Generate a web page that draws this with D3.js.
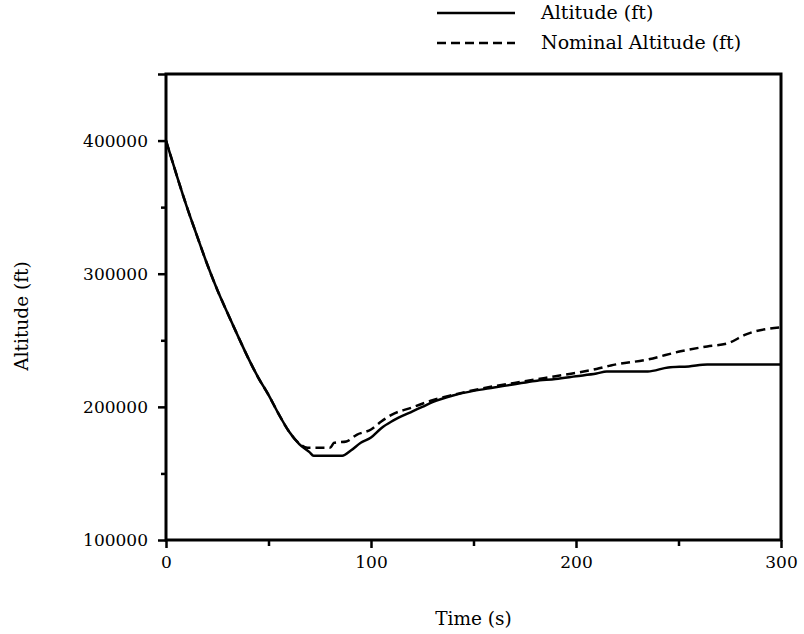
<!DOCTYPE html>
<html>
<head>
<meta charset="utf-8">
<script src="https://cdn.jsdelivr.net/npm/d3@7"></script>
<style>
  body { margin: 0; background: #fff; }
  text { font-family: "DejaVu Serif", serif; fill: #000; }
  .domain { display: none; }
  .tick line { stroke: #000; stroke-width: 2.5px; }
</style>
</head>
<body>
<div id="chart"></div>
<script>
// data
var altTime = [0, 5, 10, 15, 20, 25, 30, 35, 40, 45, 50, 55, 60, 65, 70, 72, 86, 90, 95, 100, 105, 110, 115, 120, 125, 130, 140, 150, 160, 170, 180, 190, 200, 210, 215, 235, 245, 255, 264, 300];
var altitude = [400000, 375000, 351000, 329000, 307500, 288000, 270500, 253500, 237000, 222000, 209000, 194500, 181500, 172000, 166000, 163300, 163300, 167000, 173000, 177000, 184000, 189000, 193000, 196500, 200000, 203500, 208500, 212000, 214500, 217000, 219500, 221000, 223000, 225000, 226600, 226600, 229600, 230400, 231900, 231900];

var nomTime = [0, 5, 10, 15, 20, 25, 30, 35, 40, 45, 50, 55, 60, 65, 69, 80, 82, 88, 93, 100, 105, 110, 120, 130, 140, 150, 160, 170, 180, 190, 200, 210, 217, 235, 251, 264, 274, 283, 300];
var nominal = [400000, 375000, 351000, 329000, 307500, 288000, 270500, 253500, 237000, 222000, 209000, 194500, 181500, 172500, 169300, 169300, 173000, 174000, 179000, 183000, 189000, 194000, 199500, 205000, 209000, 212500, 215500, 218000, 220500, 223000, 225500, 228500, 231100, 235600, 241700, 245400, 247700, 254500, 259800];

var xTicks = [0, 100, 200, 300];
var xMinorTicks = [50, 150, 250];
var yTicks = [100000, 200000, 300000, 400000];
var yMinorTicks = [150000, 250000, 350000];

var svgWidth = 804;
var svgHeight = 634;

var margin = { top: 74, right: 23, bottom: 94, left: 166 };
var width = svgWidth - margin.left - margin.right;
var height = svgHeight - margin.top - margin.bottom;

var svg = d3.select("#chart")
  .append("svg")
  .attr("width", svgWidth)
  .attr("height", svgHeight);

var chartGroup = svg.append("g")
  .attr("transform", `translate(${margin.left}, ${margin.top})`);

var xScale = d3.scaleLinear().domain([0, 300]).range([0, width]);
var yScale = d3.scaleLinear().domain([100000, 450000]).range([height, 0]);

// x axis, major + minor ticks
var xAxis = chartGroup.append("g")
  .attr("transform", `translate(0, ${height})`)
  .call(d3.axisBottom(xScale).tickValues(xTicks).tickSize(8).tickPadding(8).tickFormat(d3.format("d")));
xAxis.selectAll("text").style("font-size", "17px");

chartGroup.append("g")
  .attr("transform", `translate(0, ${height})`)
  .call(d3.axisBottom(xScale).tickValues(xMinorTicks).tickSize(6).tickFormat(""));

// y axis, major + minor ticks (450000 tick carries no label)
var yAxis = chartGroup.append("g")
  .call(d3.axisLeft(yScale).tickValues(yTicks.concat([450000])).tickSize(8).tickPadding(10)
    .tickFormat(d => d === 450000 ? "" : d3.format("d")(d)));
yAxis.selectAll("text").style("font-size", "17px");

chartGroup.append("g")
  .call(d3.axisLeft(yScale).tickValues(yMinorTicks).tickSize(5).tickFormat(""));

// frame
chartGroup.append("rect")
  .attr("x", 0)
  .attr("y", 0)
  .attr("width", width)
  .attr("height", height)
  .attr("fill", "none")
  .attr("stroke", "#000")
  .attr("stroke-width", 3);

// lines
var altLine = d3.line()
  .x((d, i) => xScale(altTime[i]))
  .y(d => yScale(d))
  .curve(d3.curveMonotoneX);

chartGroup.append("path")
  .datum(nominal)
  .attr("fill", "none")
  .attr("stroke", "#000")
  .attr("stroke-width", 2.5)
  .attr("stroke-dasharray", "9,5")
  .attr("d", d3.line().x((d, i) => xScale(nomTime[i])).y(d => yScale(d)).curve(d3.curveMonotoneX));

chartGroup.append("path")
  .datum(altitude)
  .attr("fill", "none")
  .attr("stroke", "#000")
  .attr("stroke-width", 2.5)
  .attr("d", altLine);

// axis titles
svg.append("text")
  .attr("x", margin.left + width / 2)
  .attr("y", 625)
  .attr("text-anchor", "middle")
  .style("font-size", "18.5px")
  .text("Time (s)");

svg.append("text")
  .attr("transform", "rotate(-90)")
  .attr("x", -316)
  .attr("y", 28)
  .attr("text-anchor", "middle")
  .style("font-size", "18.5px")
  .text("Altitude (ft)");

// legend
var legend = svg.append("g");
legend.append("line")
  .attr("x1", 437).attr("x2", 515)
  .attr("y1", 13).attr("y2", 13)
  .attr("stroke", "#000").attr("stroke-width", 2.5);
legend.append("text")
  .attr("x", 541).attr("y", 19)
  .style("font-size", "19px")
  .text("Altitude (ft)");

legend.append("line")
  .attr("x1", 437).attr("x2", 515)
  .attr("y1", 43).attr("y2", 43)
  .attr("stroke", "#000").attr("stroke-width", 2.5)
  .attr("stroke-dasharray", "9,5");
legend.append("text")
  .attr("x", 541).attr("y", 49)
  .style("font-size", "19px")
  .text("Nominal Altitude (ft)");
</script>
</body>
</html>
